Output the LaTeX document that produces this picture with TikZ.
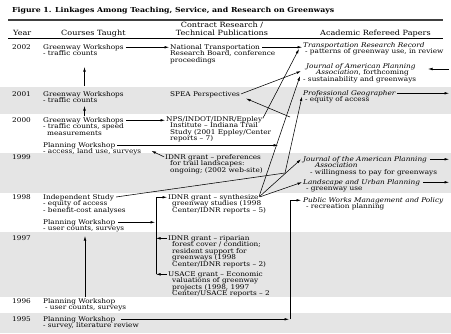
\documentclass[tikz,border=0pt]{standalone}
\usepackage{fontspec}
\setmainfont{DejaVu Serif}[FakeStretch=1.13]
\usetikzlibrary{arrows.meta,calc}
\begin{document}
\begin{tikzpicture}[x=1bp,y=-1bp,
  t/.style={anchor=base west,inner sep=0pt,font=\fontsize{6.5}{6.7}\selectfont},
  ti/.style={anchor=base west,inner sep=0pt,font=\fontsize{6.5}{6.7}\selectfont\itshape},
  hd/.style={anchor=base,inner sep=0pt,font=\fontsize{7.2}{7.5}\selectfont},
  arr/.style={-{Latex[length=4.5bp,width=2.6bp]},line width=0.55bp},
  ln/.style={line width=0.55bp},
  band/.style={fill=black!10,draw=none}]
\useasboundingbox (0,0) rectangle (451,333);
% shaded year bands
\fill[band] (0,87) rectangle (451,114);
\fill[band] (0,153) rectangle (451,193);
\fill[band] (0,232) rectangle (451,297);
\fill[band] (0,313) rectangle (451,333);
% title and header
\node[anchor=base west,inner sep=0pt,font=\fontsize{6.9}{8}\selectfont\bfseries] (title) at (12,12) {Figure 1. Linkages Among Teaching, Service, and Research on Greenways};
\draw[line width=1.3bp,black!75] (8,20) -- (443,20);
\node[hd] (h1) at (222,27) {Contract Research /};
\node[hd] (h2) at (222,35) {Technical Publications};
\node[anchor=base west,inner sep=0pt,font=\fontsize{7.2}{7.5}\selectfont] (hy) at (13,35) {Year};
\node[anchor=base west,inner sep=0pt,font=\fontsize{7.2}{7.5}\selectfont] (hc) at (61,35) {Courses Taught};
\node[anchor=base west,inner sep=0pt,font=\fontsize{7.2}{7.5}\selectfont] (ha) at (320,35) {Academic Refereed Papers};
\draw[line width=0.6bp] (8,38) -- (443,38);
% 2002
\node[t] (yr02) at (12,49) {2002};
\node[t] (gw02a) at (43,49) {Greenway Workshops};
\node[t] (gw02b) at (43,55.6) {- traffic counts};
\node[t] (nts1) at (170,49) {National Transportation};
\node[t] (nts2) at (170,55.6) {Research Board, conference};
\node[t] (nts3) at (170,62.2) {proceedings};
\node[ti] (trr1) at (303,47) {Transportation Research Record};
\node[t] (trr2) at (305,53.6) {- patterns of greenway use, in review};
\node[ti] (ja1) at (306,68) {Journal of American Planning};
\node[t] (ja2) at (316,74.6) {\itshape Association\upshape, forthcoming};
\node[t] (ja3) at (303,81.2) {- sustainability and greenways};
% 2001
\node[t] (yr01) at (12,96) {2001};
\node[t] (gw01a) at (43,96) {Greenway Workshops};
\node[t] (gw01b) at (43,102.6) {- traffic counts};
\node[t] (spea) at (170,96) {SPEA Perspectives};
\node[ti] (pg1) at (303,95) {Professional Geographer};
\node[t] (pg2) at (305,101.6) {- equity of access};
% 2000
\node[t] (yr00) at (12,122) {2000};
\node[t] (gw00a) at (43,122) {Greenway Workshops};
\node[t] (gw00b) at (43,128.6) {- traffic counts, speed};
\node[t] (gw00c) at (47,135.2) {measurements};
\node[t] (nps1) at (166,121) {NPS/INDOT/IDNR/Eppley};
\node[t] (nps2) at (170,127.6) {Institute – Indiana Trail};
\node[t] (nps3) at (170,134.2) {Study (2001 Eppley/Center};
\node[t] (nps4) at (170,140.8) {reports – 7)};
\node[t] (pw00a) at (43,147) {Planning Workshop};
\node[t] (pw00b) at (43,153.6) {- access, land use, surveys};
% 1999
\node[t] (yr99) at (12,159) {1999};
\node[t] (pref1) at (165,159) {IDNR grant – preferences};
\node[t] (pref2) at (170,165.6) {for trail landscapes:};
\node[t] (pref3) at (170,172.2) {ongoing; (2002 web-site)};
\node[ti] (jb1) at (303,161) {Journal of the American Planning};
\node[ti] (jb2) at (315,167.6) {Association};
\node[t] (jb3) at (310,174.2) {- willingness to pay for greenways};
\node[ti] (lu1) at (303,184) {Landscape and Urban Planning};
\node[t] (lu2) at (306,190.6) {- greenway use};
% 1998
\node[t] (yr98) at (12,199) {1998};
\node[t] (ind1) at (43,199) {Independent Study};
\node[t] (ind2) at (43,205.6) {- equity of access};
\node[t] (ind3) at (43,212.2) {- benefit-cost analyses};
\node[t] (syn1) at (168,199) {IDNR grant – synthesize};
\node[t] (syn2) at (172,205.6) {greenway studies (1998};
\node[t] (syn3) at (172,212.2) {Center/IDNR reports – 5)};
\node[ti] (pub1) at (303,202) {Public Works Management and Policy};
\node[t] (pub2) at (306,208.6) {- recreation planning};
\node[t] (pw98a) at (43,224) {Planning Workshop};
\node[t] (pw98b) at (43,230.6) {- user counts, surveys};
% 1997
\node[t] (yr97) at (12,240) {1997};
\node[t] (rip1) at (168,240) {IDNR grant – riparian};
\node[t] (rip2) at (172,246.6) {forest cover / condition;};
\node[t] (rip3) at (172,253.2) {resident support for};
\node[t] (rip4) at (172,259.8) {greenways (1998};
\node[t] (rip5) at (172,266.4) {Center/IDNR reports – 2)};
\node[t] (usa1) at (168,276) {USACE grant – Economic};
\node[t] (usa2) at (172,282.6) {valuations of greenway};
\node[t] (usa3) at (172,289.2) {projects (1998, 1997};
\node[t] (usa4) at (172,295.8) {Center/USACE reports – 2};
% 1996, 1995
\node[t] (yr96) at (12,303) {1996};
\node[t] (pw96a) at (43,303) {Planning Workshop};
\node[t] (pw96b) at (45,309.6) {- user counts, surveys};
\node[t] (yr95) at (12,321) {1995};
\node[t] (pw95a) at (43,321) {Planning Workshop};
\node[t] (pw95b) at (43,327.6) {- survey, literature review};
% junction / free-end coordinates
\coordinate (up1s) at (84.5,86);
\coordinate (up1e) at (84.5,67);
\coordinate (up2s) at (84.5,116);
\coordinate (up2e) at (84.5,106);
\coordinate (up3s) at (85,297);
\coordinate (up3e) at (85,236);
\coordinate (jn1) at (290,117);
\coordinate (jn2) at (285,173);
\coordinate (pwend) at (278,146);
\coordinate (bar) at (156,200);
\coordinate (c95) at (290,319);
\coordinate (redge) at (449,0);
\coordinate (rjaS) at (449,69);
\coordinate (rjaT) at (428,69);
% connectors
\draw[arr,shorten <=2bp] (gw02a.east) -- ($(gw02a.east -| nts1.west)+(-1,0)$);
\draw[arr,shorten <=2bp] (nts1.east) -- ($(nts1.east -| trr1.west)+(-1,0)$);
\draw[arr] (up1s) -- (up1e);
\draw[arr] (up2s) -- (up2e);
\draw[arr,shorten <=2bp] (gw00a.east) -- ($(gw00a.east -| nps1.west)+(-1,0)$);
\draw[arr,shorten <=1bp] (spea.east) -- ($(ja1.south west)+(-5,1.5)$);
\draw[arr,shorten <=1bp] (nps1.east) -- ($(trr2.north west)+(-6,0.5)$);
\draw[arr] (jn1) -- ($(spea.south east)+(6,1)$);
\draw[arr,shorten <=1bp] (syn1.east) -- ($(ja3.north west)+(-3,0)$);
\draw[arr,shorten <=2bp] (ind1.east) -- (jn2) -- ($(pg2.north west)+(-3,0)$);
\draw[arr,shorten <=2bp] (pw00a.east) -- (pw00a.east -| pwend);
\draw[arr,shorten <=1bp] (pref1.west) -- ($(pw00b.east)+(10,-1)$);
\draw[arr,shorten <=1bp] (syn1.east) -- ($(jb1.west)+(-2,0)$);
\draw[arr,shorten <=1bp] (syn1.east) -- ($(lu1.west)+(-1,0)$);
\draw[arr,shorten <=1bp] (pg1.east) -- (pg1.east -| redge);
\draw[arr] (rjaS) -- (rjaT);
\draw[arr,shorten <=3bp] (jb1.east) -- (jb1.east -| redge);
\draw[arr,shorten <=3bp] (lu1.east) -- (lu1.east -| redge);
% 1998-1997 fan
\draw[ln] (syn1.west -| bar) -- (usa1.west -| bar);
\draw[arr,shorten <=3bp] (pw98a.east) -- ($(pw98a.east -| bar)+(-1,0)$);
\draw[arr] (syn1.west -| bar) -- ($(syn1.west)+(-1,0)$);
\draw[arr,shorten <=1bp] (rip1.west) -- (rip1.west -| bar);
\draw[arr,shorten <=1bp] (usa1.west) -- (usa1.west -| bar);
\draw[arr] (up3s) -- (up3e);
% 1995 to Public Works
\draw[arr,shorten <=6bp] (pw95a.east) -- ($(pw95a.east -| c95)+(-1,0)$);
\draw[arr] (pw95a.east -| c95) -- (pub1.west -| c95) -- ($(pub1.west)+(-2,0)$);
\end{tikzpicture}
\end{document}
